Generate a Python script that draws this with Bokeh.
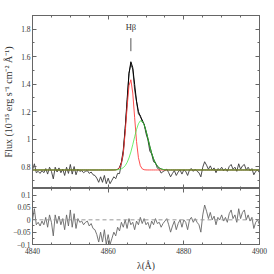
import numpy as np
from bokeh.plotting import figure
from bokeh.layouts import column
from bokeh.models import (LinearAxis, Range1d, FixedTicker, CustomJSTickFormatter, Span, Label,
                          CustomLabelingPolicy)
from bokeh.embed import file_html
from bokeh.resources import INLINE

# ---------------- data ----------------
wave_start = 4840.0
wave_step = 0.5
residual = [
    0.0, 0.045, -0.02, -0.01, -0.025, -0.005, -0.02, 0.01, -0.03, 0.02,
    -0.01, -0.065, 0.02, -0.015, 0.015, -0.02, 0.005, -0.04, 0.02, -0.025,
    0.04, -0.03, 0.025, -0.035, 0.005, -0.01, -0.005, -0.02, -0.01, -0.005,
    -0.025, -0.015, -0.035, -0.04, -0.06, -0.09, -0.05, -0.09, -0.04, -0.1,
    -0.06, -0.1, -0.075, -0.05, -0.065, -0.03, -0.045, -0.01, -0.03, 0.0,
    -0.035, 0.005, -0.02, -0.01, -0.04, -0.005, -0.02, 0.01, -0.015, 0.005,
    -0.02, -0.01, -0.035, -0.005, -0.02, 0.005, -0.015, -0.01, -0.03, -0.015,
    -0.005, 0.005, -0.02, -0.05, -0.025, -0.005, -0.04, -0.015, 0.0, -0.03,
    0.0, -0.01, -0.04, 0.0, 0.01, -0.01, 0.005, -0.01, -0.02, -0.05,
    0.02, 0.06, 0.035, 0.005, 0.03, 0.0, 0.015, -0.02, 0.01, 0.0,
    0.02, -0.005, 0.01, -0.01, 0.025, 0.04, 0.005, 0.02, -0.01, 0.045,
    0.005, 0.03, 0.04, 0.0, 0.02, -0.005, 0.01, -0.035, -0.01, 0.0,
    -0.02,
]
continuum = 0.775
narrow_center, narrow_amp, narrow_sigma = 4865.9, 0.66, 1.05   # red component
broad_center, broad_amp, broad_sigma = 4868.7, 0.36, 1.9       # green component
line_label = "Hβ"
line_wave = 4866.0

x_ticks = [4840, 4860, 4880, 4900]
top_ticks = [0.8, 1.0, 1.2, 1.4, 1.6, 1.8]
res_ticks = [-0.1, -0.05, 0.0, 0.05, 0.1]

# ---------------- derived ----------------
wave = wave_start + wave_step * np.arange(len(residual))
resid = np.array(residual)
narrow = continuum + narrow_amp * np.exp(-0.5 * ((wave - narrow_center) / narrow_sigma) ** 2)
broad = continuum + broad_amp * np.exp(-0.5 * ((wave - broad_center) / broad_sigma) ** 2)
model = narrow + broad - continuum
flux = model + resid

FONT = "Liberation Serif"
AX = "#666666"
fmt = CustomJSTickFormatter(code="var s = parseFloat(tick.toFixed(3)).toString(); return s.replace('-', '\u2212');")
hide_all = CustomLabelingPolicy(code="const all = []; for (const i of indices) all.push(i); for (const i of all) indices.unset(i); return indices;")

x_minor = list(np.arange(4840, 4901, 5))
top_minor = list(np.round(np.arange(0.7, 1.91, 0.1), 3))
res_minor = list(np.round(np.arange(-0.1, 0.126, 0.025), 3))


def style_axis(ax, ticks, minor, labels=True):
    ax.ticker = FixedTicker(ticks=ticks, minor_ticks=minor)
    ax.formatter = fmt
    ax.axis_line_color = AX
    ax.major_tick_line_color = AX
    ax.minor_tick_line_color = AX
    ax.major_tick_in = 4
    ax.major_tick_out = 0
    ax.minor_tick_in = 2
    ax.minor_tick_out = 0
    ax.major_label_text_font = FONT
    ax.major_label_text_color = "#333333"
    ax.axis_label_text_font = FONT
    ax.axis_label_text_font_style = "normal"
    ax.axis_label_text_color = "#333333"
    if labels:
        ax.major_label_text_font_size = "7.5px"
        ax.major_label_standoff = 2
    else:
        ax.major_label_text_font_size = "0px"
        ax.major_label_standoff = 0
        ax.major_label_policy = hide_all


W = 274
top = figure(width=W, height=188, x_range=Range1d(4840, 4900), y_range=Range1d(0.64, 1.9),
             output_backend="svg", toolbar_location=None,
             min_border_left=29, min_border_right=15, min_border_top=15, min_border_bottom=0)
top.grid.visible = False
top.outline_line_color = AX
top.background_fill_color = "white"
top.border_fill_color = "white"
style_axis(top.xaxis[0], x_ticks, x_minor, labels=False)
style_axis(top.yaxis[0], top_ticks, top_minor)
top.yaxis[0].axis_label = "Flux (10⁻¹⁵ erg s⁻¹ cm⁻² Å⁻¹)"
top.yaxis[0].axis_label_text_font_size = "10px"
top.yaxis[0].axis_label_standoff = 4
ax_r = LinearAxis()
style_axis(ax_r, top_ticks, top_minor, labels=False)
top.add_layout(ax_r, "right")
ax_t = LinearAxis()
style_axis(ax_t, x_ticks, x_minor, labels=False)
top.add_layout(ax_t, "above")

top.line(wave, flux, line_color="#3a3a3a", line_width=0.9)
top.line(wave, model, line_color="#000000", line_width=1)
top.line(wave, narrow, line_color="#ff3c3c", line_width=1, line_alpha=0.9)
top.line(wave, broad, line_color="#3ce83c", line_width=1, line_alpha=0.75)

top.segment(x0=[line_wave], y0=[1.64], x1=[line_wave], y1=[1.735], line_color="#555555", line_width=1)
top.add_layout(Label(x=line_wave, y=1.815, text=line_label, text_align="center", text_baseline="middle",
                     text_font=FONT, text_font_size="8.5px", text_color="#333333"))

bot = figure(width=W, height=86, x_range=top.x_range, y_range=Range1d(-0.1, 0.127),
             output_backend="svg", toolbar_location=None,
             min_border_left=29, min_border_right=15, min_border_top=0, min_border_bottom=30)
bot.grid.visible = False
bot.outline_line_color = AX
bot.border_fill_color = "white"
style_axis(bot.xaxis[0], x_ticks, x_minor)
bot.xaxis[0].major_label_standoff = 3
bot.xaxis[0].axis_label = "λ(Å)"
bot.xaxis[0].axis_label_text_font_size = "9.5px"
bot.xaxis[0].axis_label_standoff = 4
style_axis(bot.yaxis[0], res_ticks, res_minor)
ax_r2 = LinearAxis()
style_axis(ax_r2, res_ticks, res_minor, labels=False)
bot.add_layout(ax_r2, "right")
ax_t2 = LinearAxis()
style_axis(ax_t2, x_ticks, x_minor, labels=False)
bot.add_layout(ax_t2, "above")

bot.add_layout(Span(location=0, dimension="width", line_color="#999999", line_dash="4 3", line_width=1))
bot.line(wave, resid, line_color="#666666", line_width=0.9)

layout = column(top, bot, spacing=0)
open("out.html", "w").write(file_html(layout, INLINE))
